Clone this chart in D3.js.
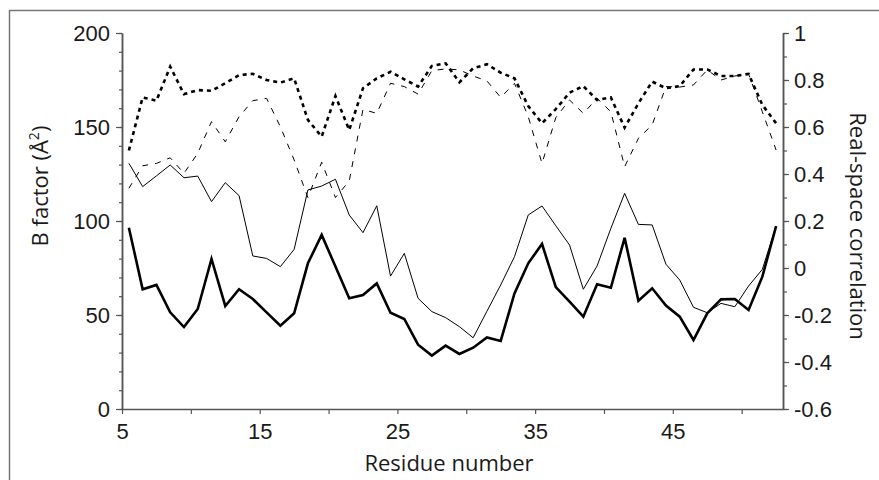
<!DOCTYPE html>
<html>
<head>
<meta charset="utf-8">
<script src="https://cdn.jsdelivr.net/npm/d3@7"></script>
<style>
  body { margin: 0; background: #fff; }
  svg { display: block; font-family: "Open Sans", "DejaVu Sans", sans-serif; }
</style>
</head>
<body>
<svg id="chart" width="879" height="480"></svg>
<script>
// residue numbers (each point sits in the middle of its residue slot)
const residues = [5, 6, 7, 8, 9, 10, 11, 12, 13, 14, 15, 16, 17, 18, 19, 20, 21, 22, 23, 24,
  25, 26, 27, 28, 29, 30, 31, 32, 33, 34, 35, 36, 37, 38, 39, 40, 41, 42, 43, 44,
  45, 46, 47, 48, 49, 50, 51, 52];

// B factors, left axis
const bThick = [96.4, 63.7, 66, 51.4, 43.6, 53.2, 79.8, 54.8, 63.7, 58.5, 51.4, 44.3, 50.9, 77.5,
  92.6, 75.8, 58.9, 60.6, 66.8, 51.2, 47.9, 34.2, 28.4, 33.7, 29.3, 32.6, 38.1, 36.2, 61.5, 77.5,
  87.8, 64.8, 57.1, 49.1, 66.3, 64.5, 91.1, 57.6, 64.2, 55, 49.1, 36.7, 50.9, 58.3, 58.5, 52.7,
  70.4, 97.3];
const bThin = [130.7, 118.3, 124, 129.8, 123, 123.9, 110.3, 120.4, 113.5, 81.4, 80.1, 75.7, 84.9,
  116.5, 118.6, 122.2, 103.2, 93.8, 108.1, 70.7, 82.8, 58.9, 51.8, 48.6, 43.8, 37.9, 52, 66, 81,
  103.2, 108, 97.5, 87.2, 63.7, 76.1, 96.1, 114.7, 98.2, 97.9, 77, 68.6, 54.1, 51.2, 56.2, 54.4,
  65.4, 74.3, 97.3];

// real-space correlation, right axis
const ccThick = [0.50, 0.726, 0.712, 0.857, 0.74, 0.757, 0.754, 0.786, 0.821, 0.826, 0.80, 0.789,
  0.807, 0.63, 0.559, 0.732, 0.587, 0.765, 0.807, 0.835, 0.803, 0.772, 0.86, 0.871, 0.79, 0.85,
  0.867, 0.831, 0.807, 0.689, 0.616, 0.676, 0.746, 0.774, 0.715, 0.726, 0.597, 0.701, 0.793,
  0.765, 0.774, 0.845, 0.845, 0.817, 0.817, 0.826, 0.694, 0.616];
const ccThin = [0.339, 0.435, 0.445, 0.469, 0.403, 0.488, 0.623, 0.537, 0.644, 0.712, 0.722, 0.601,
  0.46, 0.30, 0.45, 0.30, 0.37, 0.675, 0.658, 0.786, 0.772, 0.74, 0.84, 0.847, 0.843, 0.817,
  0.796, 0.726, 0.786, 0.644, 0.445, 0.64, 0.715, 0.658, 0.722, 0.665, 0.431, 0.552, 0.609,
  0.772, 0.77, 0.779, 0.843, 0.80, 0.817, 0.826, 0.665, 0.502];

const xTicks = [5, 10, 15, 20, 25, 30, 35, 40, 45, 50];
const xLabels = [5, 15, 25, 35, 45];
const bMajor = [0, 50, 100, 150, 200];
const ccMajor = [-0.6, -0.4, -0.2, 0, 0.2, 0.4, 0.6, 0.8, 1];

const svg = d3.select("#chart");
const axisColor = "#555";
const fontSize = 22;

const x = d3.scaleLinear().domain([5, 53]).range([122, 783]);
const yB = d3.scaleLinear().domain([0, 200]).range([409, 33]);
const yC = d3.scaleLinear().domain([-0.6, 1]).range([409, 33]);

// outer frame (only top and left edge show)
svg.append("path")
  .attr("d", "M9.5,480V10.5H879")
  .attr("fill", "none")
  .attr("stroke", "#777")
  .attr("stroke-width", 1.5);

const styleAxis = g => {
  g.select(".domain").attr("stroke", axisColor).attr("stroke-width", 1.5);
  g.selectAll(".tick line").attr("stroke", axisColor).attr("stroke-width", 1.2);
  g.selectAll("text").attr("fill", "#1a1a1a").attr("font-size", fontSize).attr("font-family", null);
};

// left axis: minor every 10, major every 50
svg.append("g")
  .attr("transform", "translate(122,0)")
  .call(d3.axisLeft(yB).tickValues(d3.range(0, 201, 10)).tickSize(3).tickFormat("").tickSizeOuter(0))
  .call(styleAxis);
svg.append("g")
  .attr("transform", "translate(122,0)")
  .call(d3.axisLeft(yB).tickValues(bMajor).tickSize(6).tickPadding(6).tickSizeOuter(0))
  .call(styleAxis);

// right axis
svg.append("g")
  .attr("transform", "translate(783,0)")
  .call(d3.axisRight(yC).tickValues(d3.range(-6, 11, 1).map(v => v / 10)).tickSize(4).tickFormat("").tickSizeOuter(0))
  .call(styleAxis);
svg.append("g")
  .attr("transform", "translate(783,0)")
  .call(d3.axisRight(yC).tickValues(ccMajor).tickSize(6).tickPadding(5).tickSizeOuter(0)
    .tickFormat(d => String(+d.toFixed(1))))
  .call(styleAxis);

// bottom axis
svg.append("g")
  .attr("transform", "translate(0,409)")
  .call(d3.axisBottom(x).tickValues(xTicks).tickSize(5).tickPadding(9).tickSizeOuter(0)
    .tickFormat(d => xLabels.includes(d) ? d : ""))
  .call(styleAxis);

// axis titles
svg.append("text")
  .attr("transform", "translate(48,186) rotate(-90)")
  .attr("text-anchor", "middle")
  .attr("font-size", fontSize)
  .attr("fill", "#1a1a1a")
  .text("B factor (Å")
  .call(t => t.append("tspan").attr("dy", -9).attr("font-size", 14).text("2"))
  .call(t => t.append("tspan").attr("dy", 9).text(")"));

svg.append("text")
  .attr("x", 449)
  .attr("y", 471)
  .attr("text-anchor", "middle")
  .attr("font-size", fontSize)
  .attr("fill", "#1a1a1a")
  .text("Residue number");

svg.append("text")
  .attr("transform", "translate(850,226) rotate(90)")
  .attr("text-anchor", "middle")
  .attr("font-size", fontSize)
  .attr("fill", "#1a1a1a")
  .text("Real-space correlation");

// series
const lineB = d3.line().x((d, i) => x(residues[i] + 0.5)).y(d => yB(d));
const lineC = d3.line().x((d, i) => x(residues[i] + 0.5)).y(d => yC(d));

svg.append("path").datum(ccThin)
  .attr("fill", "none").attr("stroke", "#000").attr("stroke-width", 1)
  .attr("stroke-dasharray", "6,7")
  .attr("d", lineC);
svg.append("path").datum(ccThick)
  .attr("fill", "none").attr("stroke", "#000").attr("stroke-width", 2.6)
  .attr("stroke-dasharray", "4,4")
  .attr("d", lineC);
svg.append("path").datum(bThin)
  .attr("fill", "none").attr("stroke", "#000").attr("stroke-width", 1)
  .attr("d", lineB);
svg.append("path").datum(bThick)
  .attr("fill", "none").attr("stroke", "#000").attr("stroke-width", 2.6)
  .attr("d", lineB);
</script>
</body>
</html>
